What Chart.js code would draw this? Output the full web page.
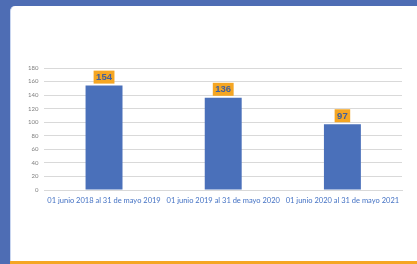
<!DOCTYPE html>
<html>
<head>
<meta charset="utf-8">
<script src="https://cdn.jsdelivr.net/npm/chart.js@4"></script>
<style>
  body { margin: 0; background: #4e6db4; width: 417px; height: 264px; overflow: hidden; position: relative; }
  #panel { position: absolute; left: 10px; top: 6px; width: 420px; height: 255px; background: #fff; border-top-left-radius: 5px; border-left: 1px solid #c9d6f0; box-sizing: border-box; }
  #bottomline { position: absolute; left: 10px; top: 261px; width: 407px; height: 3px; background: #f5a623; }
  #wrap { position: absolute; left: 0; top: 0; width: 417px; height: 264px; }
</style>
</head>
<body>
<div id="panel"></div>
<div id="bottomline"></div>
<div id="wrap"><canvas id="myChart" width="417" height="264"></canvas></div>
<script>
const periodos = ["01 junio 2018 al 31 de mayo 2019", "01 junio 2019 al 31 de mayo 2020", "01 junio 2020 al 31 de mayo 2021"];
const valores = [154, 136, 97];
const yTicks = [0, 20, 40, 60, 80, 100, 120, 140, 160, 180];

// cajita naranja con el valor encima de cada barra
const etiquetas = {
	id: 'etiquetas',
	afterDatasetsDraw(chart) {
		const ctx = chart.ctx;
		const meta = chart.getDatasetMeta(0);
		ctx.save();
		ctx.font = 'bold 9.5px "Liberation Sans", sans-serif';
		ctx.textAlign = 'center';
		ctx.textBaseline = 'middle';
		meta.data.forEach(function(bar, i) {
			const txt = String(valores[i]);
			const w = ctx.measureText(txt).width + 5;
			const h = 13;
			const x = bar.x - w / 2;
			const y = bar.y - 2 - h;
			ctx.fillStyle = '#f5a623';
			ctx.fillRect(x, y, w, h);
			ctx.fillStyle = '#42609c';
			ctx.fillText(txt, bar.x, y + h / 2 + 0.5);
		});
		ctx.restore();
	}
};

const ctx = document.getElementById("myChart").getContext("2d");
new Chart(ctx, {
	type: 'bar',
	data: {
		labels: periodos,
		datasets: [{
			data: valores,
			backgroundColor: '#4a70ba',
			barPercentage: 0.62,
			categoryPercentage: 0.5
		}]
	},
	options: {
		responsive: false,
		animation: false,
		devicePixelRatio: 1,
		layout: { padding: { left: 22, right: 15, top: 68, bottom: 53 } },
		plugins: { legend: { display: false }, tooltip: { enabled: false } },
		scales: {
			x: {
				grid: { display: false, drawTicks: false },
				border: { color: '#d9d9d9' },
				ticks: {
					color: '#4472c4',
					font: { family: 'Lato', size: 7.5 },
					maxRotation: 0,
					autoSkip: false,
					padding: 6
				}
			},
			y: {
				min: 0,
				max: 180,
				afterBuildTicks(axis) { axis.ticks = yTicks.map(v => ({ value: v })); },
				grid: { color: '#d9d9d9', drawTicks: false },
				border: { display: false },
				ticks: {
					color: '#7f7f7f',
					font: { family: 'Lato', size: 6 },
					autoSkip: false,
					padding: 6
				}
			}
		}
	},
	plugins: [etiquetas]
});
</script>
</body>
</html>
